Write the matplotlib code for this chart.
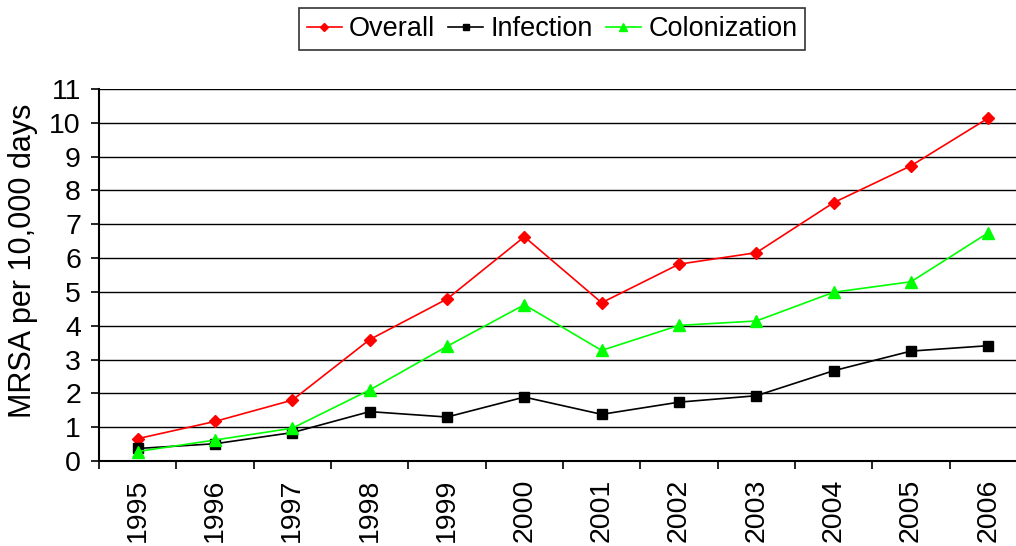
import numpy as np
import matplotlib.pyplot as plt
from matplotlib.ticker import MultipleLocator, FixedLocator

years = ['1995', '1996', '1997', '1998', '1999', '2000',
         '2001', '2002', '2003', '2004', '2005', '2006']
overall = [0.66, 1.17, 1.80, 3.59, 4.79, 6.63, 4.68, 5.82, 6.16, 7.64, 8.73, 10.14]
infection = [0.37, 0.51, 0.84, 1.46, 1.30, 1.89, 1.38, 1.74, 1.93, 2.67, 3.25, 3.41]
colonization = [0.28, 0.62, 0.97, 2.10, 3.39, 4.62, 3.27, 4.01, 4.14, 4.99, 5.30, 6.75]

plt.rcParams['font.family'] = ['Liberation Sans', 'DejaVu Sans']

fig = plt.figure(figsize=(10.16, 5.46), dpi=100)
# right edge runs past the figure, like the cropped original
ax = fig.add_axes([99/1016, 1 - 461/546, 928/1016, 372/546])

x = np.arange(len(years))
ax.plot(x, overall, color='#ff0000', marker='D', markersize=6, lw=1.2, label='Overall', zorder=3)
ax.plot(x, infection, color='black', marker='s', markersize=6.5, lw=1.2, label='Infection', zorder=3)
ax.plot(x, colonization, color='#00ff00', marker='^', markersize=8, lw=1.2, label='Colonization', zorder=3)

ax.set_xlim(-0.5, 11.5)
ax.set_ylim(0, 11)
ax.yaxis.set_major_locator(MultipleLocator(1))
ax.grid(axis='y', color='black', lw=1)
ax.set_axisbelow(True)

ax.set_xticks(x)
ax.set_xticklabels(years, rotation=90, fontsize=20.5)
ax.xaxis.set_minor_locator(FixedLocator(np.arange(-0.5, 12, 1)))
ax.tick_params(axis='x', which='major', length=0, pad=13)
ax.tick_params(axis='x', which='minor', length=6, width=1.2, direction='out')
ax.tick_params(axis='y', labelsize=20.5, length=6, width=1.2, pad=7)

for s in ['top', 'right']:
    ax.spines[s].set_visible(False)
ax.spines['left'].set_linewidth(1.5)
ax.spines['bottom'].set_linewidth(1.5)

ax.set_ylabel('MRSA per 10,000 days', fontsize=22)
ax.yaxis.set_label_coords(-0.0657, 0.538)

leg = fig.legend(loc='upper center', bbox_to_anchor=(552/1016, 1 - 8/546), ncol=3,
                 fontsize=19.5, frameon=True, fancybox=False, edgecolor='black',
                 handlelength=1.3, handletextpad=0.26, columnspacing=0.48,
                 borderpad=0.3, borderaxespad=0, markerscale=0.7)
leg.get_frame().set_linewidth(1.2)

fig.savefig('out.png', dpi=100)
